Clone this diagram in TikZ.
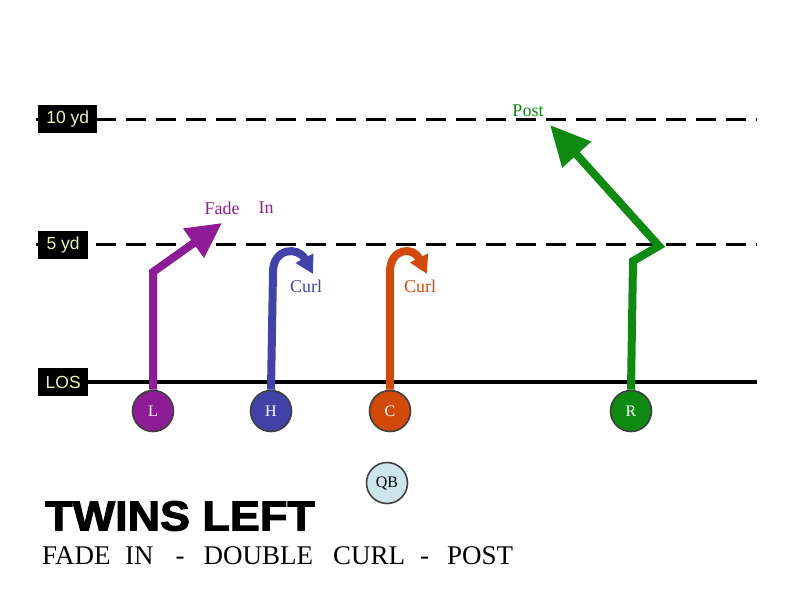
\documentclass[tikz,border=0pt]{standalone}
\usepackage{fontspec}
\setmainfont{Liberation Serif}
\setsansfont{Liberation Sans}
\newfontfamily\heavyfont[FakeBold=2.5]{Liberation Sans Bold}
\usetikzlibrary{arrows.meta}
\definecolor{cL}{HTML}{8E1C96}
\definecolor{cH}{HTML}{4242A8}
\definecolor{cC}{HTML}{D24A0A}
\definecolor{cR}{HTML}{0E8A12}
\definecolor{cQB}{HTML}{CDE6EC}
\definecolor{labtext}{HTML}{E6F6B0}
\tikzset{
  yardbox/.style={fill=black, text=labtext, font=\sffamily\fontsize{17.5}{17.5}\selectfont, minimum height=28pt, inner sep=0pt, anchor=west},
  yardline/.style={line width=3pt, dash pattern=on 20pt off 10pt},
  player/.style={circle, draw=black!75, line width=1.6pt, minimum size=41pt, inner sep=0pt, text=white, font=\fontsize{16}{16}\selectfont},
  route/.style={line width=8pt},
  routelab/.style={font=\fontsize{18}{18}\selectfont, inner sep=0pt},
}
\begin{document}
\begin{tikzpicture}[x=1pt,y=-1pt]
\useasboundingbox (0,0) rectangle (792,612);
% yard lines
\coordinate (y10a) at (36,120); \coordinate (y10b) at (757,120);
\coordinate (y5a) at (36,245); \coordinate (y5b) at (757,245);
\coordinate (losa) at (38,382); \coordinate (losb) at (757,382);
\draw[yardline] (y10a) -- (y10b);
\draw[yardline] (y5a) -- (y5b);
\draw[line width=4pt] (losa) -- (losb);
\node[yardbox, minimum width=59pt] (b10) at (38,119) {10 yd};
\node[yardbox, minimum width=50pt] (b5) at (38,245) {5 yd};
\node[yardbox, minimum width=50pt] (blos) at (38,382) {LOS};
% players
\node[player, fill=cL] (L) at (153,411) {L};
\node[player, fill=cH] (H) at (271,411) {H};
\node[player, fill=cC] (C) at (390,411) {C};
\node[player, fill=cR] (R) at (631,411) {R};
\node[player, fill=cQB, text=black] (QB) at (387,483) {QB};
% route points
\coordinate (L1) at (153,272); \coordinate (L2) at (222,223);
\coordinate (H1) at (273,272); \coordinate (H2) at (313,274);
\coordinate (C1) at (390,272); \coordinate (C2) at (427,274);
\coordinate (R1) at (633,261); \coordinate (R2) at (659,246); \coordinate (R3) at (550,125);
% routes
\draw[route, cL, -{Triangle[length=35pt,width=34pt]}] (L.north) -- (L1) -- (L2);
\draw[route, cH, -{Triangle[length=18pt,width=19pt]}] (H.north) -- (H1) .. controls (273,248) and (298,246) .. (H2);
\draw[route, cC, -{Triangle[length=18pt,width=19pt]}] (C.north) -- (C1) .. controls (390,248) and (413,246) .. (C2);
\draw[route, cR, -{Triangle[length=40pt,width=37pt]}] (R.north) -- (R1) -- (R2) -- (R3);
% route labels
\node[routelab, text=cR] (tpost) at (528,111) {Post};
\node[routelab, text=cL] (tfade) at (222,208) {Fade};
\node[routelab, text=cL] (tin) at (266,208) {In};
\node[routelab, text=cH] (tcurl1) at (306,286) {Curl};
\node[routelab, text=cC] (tcurl2) at (420,286) {Curl};
% titles
\node[anchor=west, inner sep=0pt, font=\heavyfont\fontsize{42}{42}\selectfont, xscale=1.07] (title) at (45,516) {TWINS LEFT};
\node[anchor=west, inner sep=0pt, font=\fontsize{27}{27}\selectfont] (sub) at (42,556) {FADE\hspace{14.5pt}IN\hspace{22pt}-\hspace{19pt}DOUBLE\hspace{20pt}CURL\hspace{15pt}-\hspace{18pt}POST};
\end{tikzpicture}
\end{document}
